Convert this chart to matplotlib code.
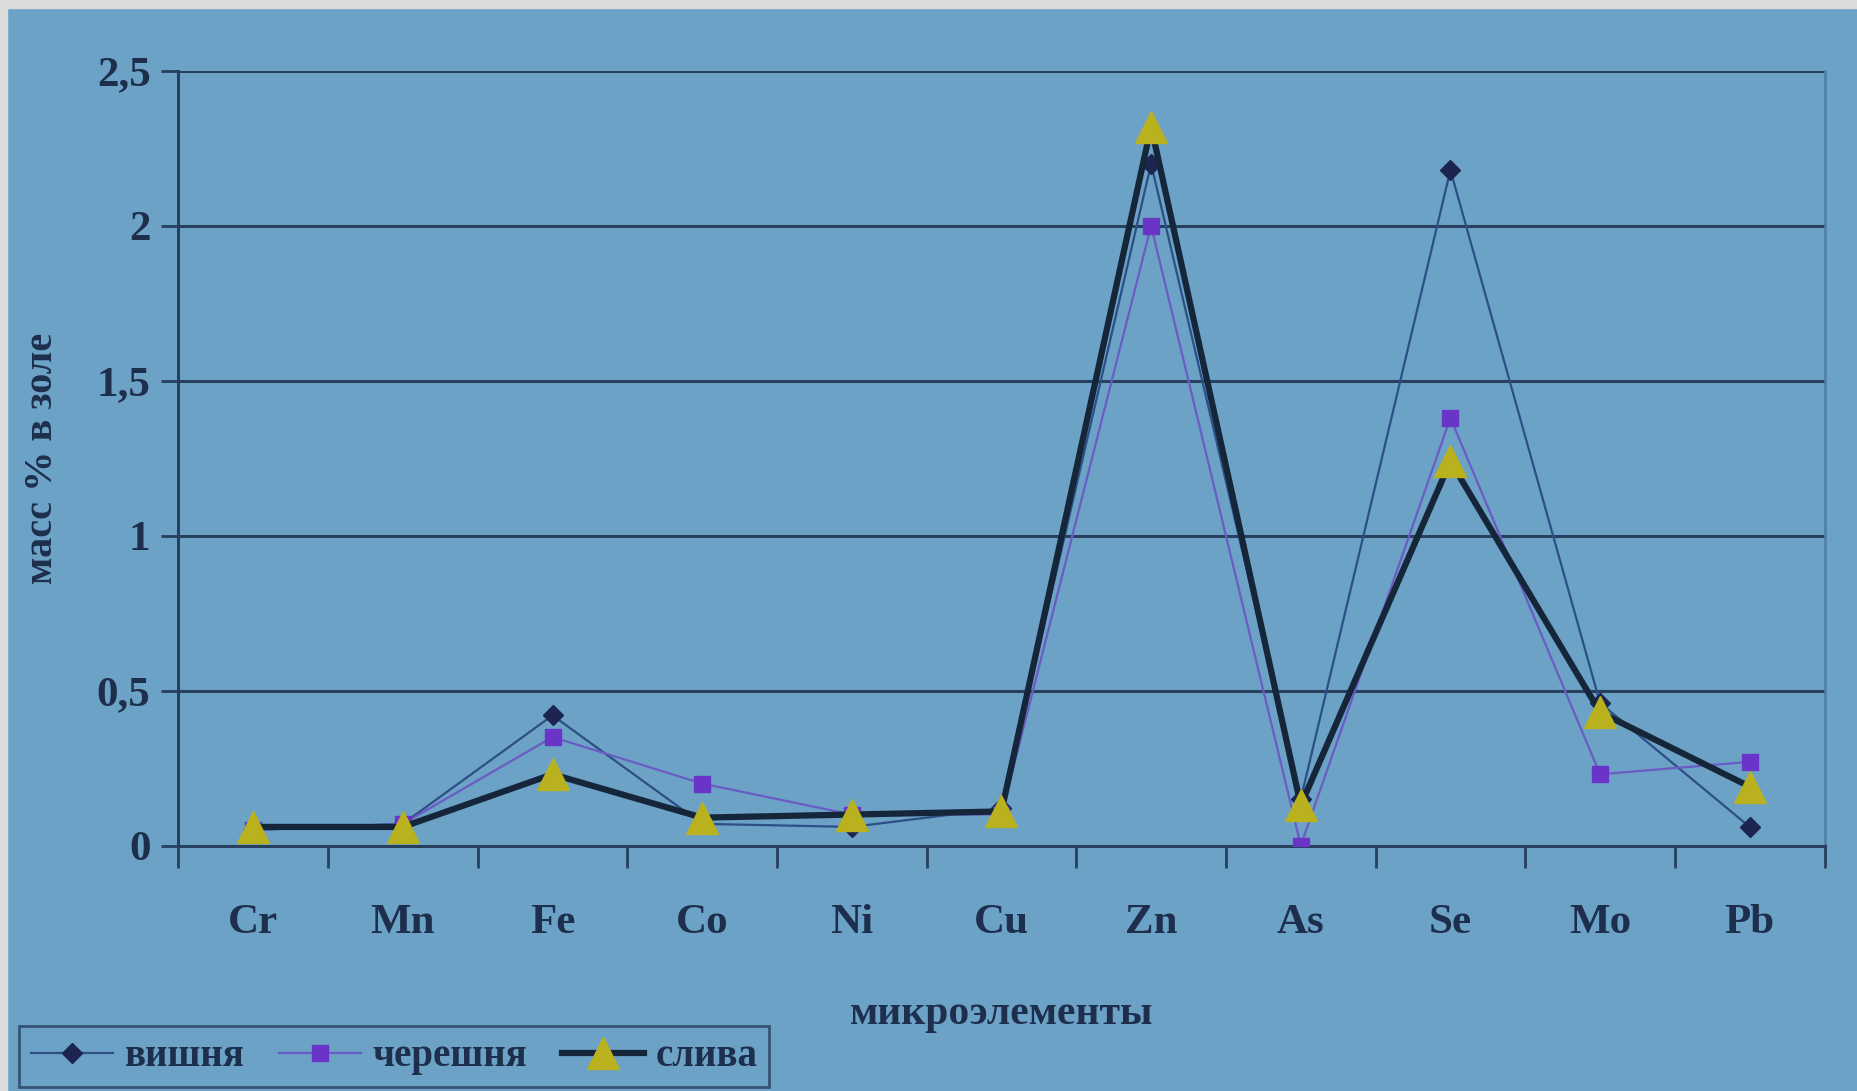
import matplotlib.pyplot as plt
import numpy as np
from matplotlib.lines import Line2D
from matplotlib.patches import Rectangle

# ── данные ────────────────────────────────────────────────────────────────────
elements = ["Cr", "Mn", "Fe", "Co", "Ni", "Cu", "Zn", "As", "Se", "Mo", "Pb"]
vishnya   = [0.05, 0.07, 0.42, 0.07, 0.06, 0.12, 2.20, 0.15, 2.18, 0.46, 0.06]
chereshnya = [0.05, 0.07, 0.35, 0.20, 0.10, 0.10, 2.00, 0.00, 1.38, 0.23, 0.27]
sliva     = [0.06, 0.06, 0.23, 0.09, 0.10, 0.11, 2.32, 0.13, 1.24, 0.43, 0.19]
yticks = [0, 0.5, 1, 1.5, 2, 2.5]
ytick_labels = ["0", "0,5", "1", "1,5", "2", "2,5"]

# ── стиль ─────────────────────────────────────────────────────────────────────
BG     = "#6da2c7"
C_TXT  = "#1d2f4c"
C_GRID = "#27405e"
C_VI   = "#1b2550"
C_VI_L = "#2c4f86"
C_CH   = "#6a34c8"
C_CH_L = "#6a5cc4"
C_SL   = "#16263a"
C_TRI  = "#b9b11e"

plt.rcParams["font.family"] = ["Liberation Serif", "DejaVu Serif"]

fig = plt.figure(figsize=(18.58, 10.91), dpi=100, facecolor=BG)
ax = fig.add_axes([0.096, 0.225, 0.886, 0.71])
ax.set_facecolor(BG)

x = np.arange(len(elements))

ax.plot(x, vishnya, "-", color=C_VI_L, lw=1.6, marker="D", ms=10,
        mfc=C_VI, mec=C_VI, zorder=4)
ax.plot(x, chereshnya, "-", color=C_CH_L, lw=1.6, marker="s", ms=12,
        mfc=C_CH, mec=C_CH, zorder=4)
ax.plot(x, sliva, "-", color=C_SL, lw=4.5, marker="^", ms=23,
        mfc=C_TRI, mec=C_TRI, zorder=5)

ax.set_xlim(-0.5, len(elements) - 0.5)
ax.set_ylim(0, 2.5)
for y in yticks[1:]:
    ax.axhline(y, color=C_GRID, lw=2.2, zorder=1)

ax.set_yticks(yticks)
ax.set_yticklabels(ytick_labels)
ax.set_xticks(x)
ax.set_xticklabels(elements)
ax.set_xticks(np.arange(-0.5, len(elements)), minor=True)
ax.tick_params(axis="x", which="major", length=0, pad=42,
               labelsize=31, labelcolor=C_TXT)
ax.tick_params(axis="x", which="minor", length=16, width=2, color=C_GRID)
ax.tick_params(axis="y", length=12, width=2, color=C_GRID, pad=8,
               labelsize=31, labelcolor=C_TXT)
for lab in ax.get_xticklabels() + ax.get_yticklabels():
    lab.set_fontweight("bold")

ax.spines["top"].set_visible(False)
ax.spines["left"].set_color(C_GRID)
ax.spines["left"].set_linewidth(2.2)
ax.spines["bottom"].set_color(C_GRID)
ax.spines["bottom"].set_linewidth(2.2)
ax.spines["right"].set_color("#4f7ea3")
ax.spines["right"].set_linewidth(1.8)

ax.set_xlabel("микроэлементы", fontsize=30, fontweight="bold",
              color=C_TXT, labelpad=38)
ax.set_ylabel("масс % в золе", fontsize=29, fontweight="bold",
              color=C_TXT, labelpad=26)

# рамка экрана сверху и слева
fig.patches.append(Rectangle((0, 0.993), 1, 0.007, transform=fig.transFigure,
                             color="#dcdcdc", zorder=0))
fig.patches.append(Rectangle((0, 0), 0.004, 1, transform=fig.transFigure,
                             color="#dcdcdc", zorder=0))

# ── легенда ───────────────────────────────────────────────────────────────────
handles = [
    Line2D([], [], color=C_VI_L, lw=1.6, marker="D", ms=10, mfc=C_VI, mec=C_VI),
    Line2D([], [], color=C_CH_L, lw=1.6, marker="s", ms=12, mfc=C_CH, mec=C_CH),
    Line2D([], [], color=C_SL, lw=4.5, marker="^", ms=23, mfc=C_TRI, mec=C_TRI),
]
leg = fig.legend(handles, ["вишня", "черешня", "слива"], loc="lower left",
                 bbox_to_anchor=(0.0, -0.014), ncol=3, frameon=True,
                 fancybox=False, edgecolor=C_GRID, facecolor=BG,
                 prop={"family": "Liberation Serif", "weight": "bold", "size": 28},
                 handlelength=2.1, handletextpad=0.3, columnspacing=0.9,
                 borderpad=0.3)
leg.get_frame().set_linewidth(2)
for t in leg.get_texts():
    t.set_color(C_TXT)

fig.savefig("out.png", dpi=100, facecolor=BG)
